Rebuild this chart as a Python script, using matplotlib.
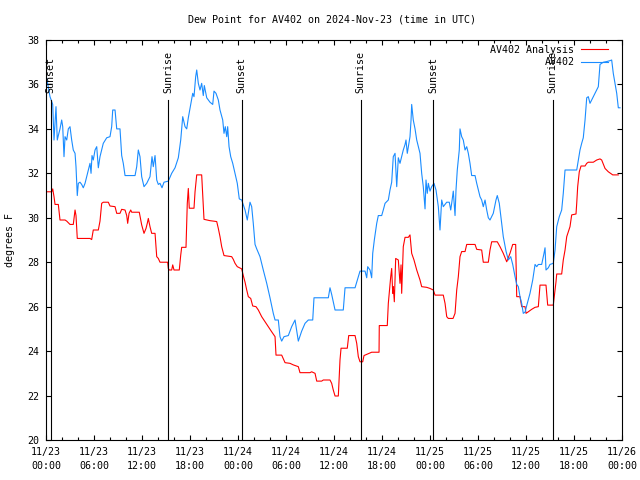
import numpy as np
import pandas as pd
import matplotlib
matplotlib.use("Agg")
import matplotlib.pyplot as plt
import matplotlib.dates as mdates

plt.rcParams['font.family'] = ['DejaVu Sans Mono']
plt.rcParams['font.size'] = 7.2

start = pd.Timestamp("2024-11-23 00:00")

# AV402 observations (hours since 11/23 00:00 UTC, degrees F)
obs_hours = [0.09, 0.5, 0.84, 1.0, 1.25, 1.41, 1.54, 1.75, 1.96, 2.09, 2.25, 2.38, 2.59, 2.79, 3.0,
             3.21, 3.41, 3.63, 3.75, 3.91, 4.04, 4.25, 4.46, 4.66, 4.88, 5.09, 5.29, 5.5, 5.63, 5.75,
             5.91, 6.13, 6.34, 6.54, 6.75, 6.96, 7.16, 7.59, 8.0, 8.21, 8.34, 8.63, 8.84, 9.25, 9.46,
             9.66, 9.88, 11.13, 11.34, 11.54, 11.75, 11.96, 12.25, 12.59, 13.0, 13.25, 13.41, 13.63,
             13.84, 14.04, 14.25, 14.5, 14.75, 15.29, 15.71, 16.13, 16.54, 16.84, 17.09, 17.38, 17.59,
             17.79, 18.09, 18.34, 18.5, 18.71, 18.84, 19.04, 19.25, 19.46, 19.66, 19.79, 20.09, 20.5,
             20.84, 21.0, 21.25, 21.54, 21.75, 22.09, 22.25, 22.41, 22.59, 22.71, 22.88, 23.09, 23.34,
             23.63, 23.91, 24.16, 24.46, 24.88, 25.16, 25.29, 25.5, 25.71, 25.91, 26.13, 26.34, 26.75,
             27.16, 27.59, 28.0, 28.41, 28.63, 29.04, 29.25, 29.46, 29.75, 30.29, 30.71, 31.13, 31.54,
             31.96, 32.38, 32.79, 33.34, 33.5, 35.29, 35.5, 35.71, 36.13, 37.16, 37.38, 38.63, 39.04,
             39.25, 39.88, 40.09, 40.21, 40.5, 40.71, 40.84, 41.04, 41.34, 41.54, 41.96, 42.16, 42.38,
             42.79, 43.0, 43.21, 43.41, 43.63, 43.84, 44.04, 44.25, 44.46, 44.66, 44.88, 45.0, 45.16,
             45.5, 45.63, 45.71, 45.91, 46.13, 46.34, 46.54, 46.75, 46.96, 47.16, 47.38, 47.5, 47.66,
             47.79, 48.0, 48.21, 48.5, 48.75, 49.04, 49.25, 49.46, 49.66, 50.09, 50.41, 50.59, 50.71,
             50.91, 51.13, 51.25, 51.41, 51.66, 51.75, 51.96, 52.16, 52.38, 52.59, 52.79, 53.0, 53.21,
             53.63, 53.84, 54.04, 54.25, 54.46, 54.66, 54.88, 55.09, 55.29, 55.5, 55.91, 56.25, 56.41,
             56.66, 56.88, 57.16, 57.5, 57.79, 58.09, 58.34, 58.63, 58.84, 59.04, 59.25, 59.46, 59.66,
             59.88, 60.09, 60.5, 60.84, 61.13, 61.34, 61.54, 61.96, 62.25, 62.38, 62.5, 62.79, 63.0,
             63.41, 63.63, 63.84, 64.16, 64.46, 64.66, 64.88, 66.34, 66.54, 66.75, 66.96, 67.16, 67.38,
             67.59, 67.79, 68.0, 68.21, 68.63, 69.04, 69.25, 69.66, 70.09, 70.5, 70.71, 70.91, 71.13,
             71.34, 71.54, 71.75]
obs_dewpt = [36.28, 35.45, 35.1, 33.5, 35.0, 33.5, 33.7, 34.0, 34.4, 34.1, 32.75, 33.65, 33.5, 34.0, 34.1,
             33.5, 33.05, 32.9, 32.3, 31.0, 31.55, 31.6, 31.5, 31.35, 31.55, 31.85, 32.15, 32.45, 32.0, 32.8,
             32.6, 33.05, 33.2, 32.25, 32.75, 33.05, 33.35, 33.6, 33.65, 34.1, 34.85, 34.85, 34.0, 34.0, 32.8,
             32.45, 31.9, 31.9, 32.3, 33.05, 32.75, 31.85, 31.4, 31.55, 31.85, 32.75, 32.3, 32.8,
             31.7, 31.5, 31.55, 31.35, 31.6, 31.65, 32.0, 32.25, 32.7, 33.5, 34.55, 34.1, 34.0,
             34.5, 35.1, 35.6, 35.45, 36.35, 36.65, 36.05, 35.75, 36.05, 35.5, 35.95, 35.4, 35.2,
             35.1, 35.7, 35.6, 35.3, 34.85, 34.4, 33.8, 34.1, 33.65, 34.1, 33.2, 32.75, 32.45,
             32.0, 31.55, 30.85, 30.8, 30.35, 29.9, 30.2, 30.7, 30.5, 29.75, 28.8, 28.6, 28.25,
             27.65, 27.05, 26.4, 25.7, 25.4, 25.4, 24.65, 24.45, 24.65, 24.7, 25.1, 25.4, 24.45,
             24.9, 25.25, 25.4, 25.4, 26.4, 26.4, 26.85, 26.55, 25.85, 25.85, 26.85, 26.85, 27.35,
             27.6, 27.6, 27.3, 27.8, 27.65, 27.3, 28.4, 29.0, 29.75, 30.1, 30.1, 30.35, 30.65,
             30.8, 31.25, 31.6, 32.75, 32.9, 31.4, 32.7, 32.45, 32.75, 33.05, 33.3, 33.5, 32.9,
             33.65, 34.4, 35.1, 34.4, 34.0, 33.5, 33.2, 32.9, 32.0, 31.4, 30.4, 31.7, 31.1,
             31.55, 31.2, 31.4, 31.55, 31.25, 30.5, 29.45, 30.8, 30.5, 30.7, 30.7, 30.35, 30.65,
             31.2, 30.1, 31.25, 32.15, 33.05, 34.0, 33.65, 33.5, 33.05, 33.2, 32.9, 32.45, 31.9,
             31.9, 31.55, 31.25, 30.95, 30.8, 30.5, 30.8, 30.35, 30.0, 29.9, 30.2, 30.8, 31.0,
             30.65, 30.0, 29.15, 28.5, 28.1, 28.25, 27.9, 27.35, 27.0, 26.9, 26.45, 26.15, 25.7,
             25.75, 26.05, 26.6, 27.2, 27.9, 27.8, 27.9, 27.9, 28.4, 28.65, 27.65, 27.75, 27.9,
             27.95, 28.55, 29.6, 30.05, 30.35, 31.1, 32.15, 32.15, 32.6, 33.05, 33.35, 33.6, 34.4,
             35.4, 35.45, 35.15, 35.3, 35.6, 35.9, 36.9, 37.0, 37.03, 37.07, 37.1, 36.5, 36.05,
             35.6, 34.95, 34.95]

# AV402 analysis (hours since 11/23 00:00 UTC, degrees F)
ana_hours = [0.09, 0.71, 0.84, 1.0, 1.13, 1.54, 1.75, 2.38, 2.59, 3.0, 3.41, 3.63, 3.75, 3.91, 5.5,
             5.71, 5.91, 6.54, 6.75, 6.96, 7.16, 7.79, 8.0, 8.63, 8.84, 9.25, 9.46, 9.88, 10.09,
             10.21, 10.38, 10.59, 10.71, 11.66, 11.96, 12.25, 12.5, 12.66, 12.79, 13.0, 13.21, 13.63,
             13.84, 14.04, 14.25, 15.21, 15.29, 15.41, 15.71, 15.84, 16.0, 16.66, 16.84, 16.96, 17.5,
             17.66, 17.79, 17.91, 18.5, 18.63, 18.84, 19.46, 19.75, 20.5, 21.34, 21.54, 21.75, 21.96,
             22.25, 23.21, 23.41, 23.63, 23.91, 24.46, 24.66, 24.88, 25.09, 25.29, 25.59, 25.84, 26.25,
             26.54, 26.96, 27.38, 27.79, 28.21, 28.63, 28.75, 29.46, 29.88, 30.5, 30.91, 31.54, 31.75,
             33.0, 33.21, 33.63, 33.84, 34.46, 34.66, 35.5, 35.71, 35.91, 36.13, 36.54, 36.75, 36.88,
             37.66, 37.84, 38.63, 38.84, 39.04, 39.25, 39.59, 39.75, 40.71, 41.63, 41.66, 42.66, 42.79,
             43.09, 43.21, 43.34, 43.41, 43.54, 43.71, 44.04, 44.25, 44.38, 44.46, 44.59, 44.66, 44.88,
             45.29, 45.5, 45.71, 46.0, 46.34, 46.75, 46.96, 47.59, 48.0, 48.41, 48.63, 49.66, 49.88,
             50.09, 50.29, 50.88, 51.13, 51.34, 51.54, 51.75, 51.96, 52.38, 52.59, 53.63, 53.84, 54.46,
             54.66, 55.29, 55.5, 55.71, 56.41, 56.75, 57.16, 57.59, 58.0, 58.34, 58.71, 58.84, 59.25,
             59.46, 59.88, 60.0, 60.29, 60.71, 61.13, 61.54, 61.75, 62.5, 62.71, 63.41, 63.75, 63.84,
             64.46, 64.66, 64.88, 65.09, 65.5, 65.71, 66.25, 66.34, 66.46, 66.66, 66.88, 67.38, 67.59,
             67.79, 68.41, 68.84, 69.25, 69.46, 69.88, 70.29, 70.84, 71.54]
ana_dewpt = [31.17, 31.17, 31.3, 30.95, 30.6, 30.6, 29.9, 29.9, 29.85, 29.7, 29.7, 30.35, 30.1, 29.07, 29.07,
             29.02, 29.45, 29.45, 29.85, 30.65, 30.7, 30.7, 30.53, 30.5, 30.2, 30.2, 30.38, 30.35, 30.1,
             29.75, 30.2, 30.35, 30.25, 30.25, 29.68, 29.3, 29.52, 29.75, 29.97, 29.6, 29.3, 29.3,
             28.25, 28.17, 28.0, 28.0, 27.72, 27.65, 27.65, 27.88, 27.65, 27.65, 28.32, 28.67, 28.67,
             30.65, 31.32, 30.43, 30.43, 31.17, 31.93, 31.93, 29.93, 29.87, 29.83, 29.52, 29.15, 28.7,
             28.3, 28.25, 28.13, 27.95, 27.8, 27.7, 27.4, 27.1, 26.75, 26.45, 26.37, 26.03, 26.0,
             25.85, 25.55, 25.32, 25.1, 24.87, 24.65, 23.82, 23.82, 23.48, 23.45, 23.38, 23.3, 23.03,
             23.03, 23.07, 23.0, 22.65, 22.65, 22.7, 22.7, 22.55, 22.25, 21.98, 21.98, 23.6, 24.13,
             24.13, 24.7, 24.7, 24.35, 23.75, 23.52, 23.52, 23.8, 23.95, 23.95, 25.15, 25.15, 26.15,
             27.35, 27.72, 26.6, 26.9, 26.22, 28.17, 28.1, 27.05, 27.88, 26.6, 27.88, 28.7, 29.12,
             29.12, 29.23, 28.4, 28.1, 27.65, 27.2, 26.9, 26.87, 26.82, 26.75, 26.52, 26.52, 26.15,
             25.55, 25.47, 25.47, 25.7, 26.75, 27.35, 28.25, 28.48, 28.48, 28.8, 28.8, 28.58, 28.55,
             28.0, 28.0, 28.55, 28.92, 28.92, 28.7, 28.4, 28.02, 28.4, 28.8, 28.8, 26.45, 26.45,
             26.0, 26.0, 25.7, 25.77, 25.88, 25.97, 26.0, 26.97, 26.97, 26.07, 26.07, 27.12, 27.47,
             27.47, 28.1, 28.55, 29.15, 29.6, 30.13, 30.17, 30.65, 31.4, 32.07, 32.33, 32.33, 32.45,
             32.5, 32.5, 32.6, 32.65, 32.6, 32.22, 32.07, 31.93, 31.93]

# sunrise / sunset markers (hours since 11/23 00:00 UTC)
sun_hours = [0.58, 15.3, 24.47, 39.33, 48.42, 63.33]
sun_labels = ["Sunset", "Sunrise", "Sunset", "Sunrise", "Sunset", "Sunrise"]

obs_t = start + pd.to_timedelta(obs_hours, unit="h")
ana_t = start + pd.to_timedelta(ana_hours, unit="h")
sun_t = start + pd.to_timedelta(sun_hours, unit="h")

fig = plt.figure(figsize=(6.4, 4.8), dpi=100)
ax = fig.add_axes([46/640, 40/480, 576/640, 400/480])

ax.plot(ana_t, ana_dewpt, color="#ff0000", lw=0.8, label="AV402 Analysis")
ax.plot(obs_t, obs_dewpt, color="#1a8cff", lw=0.8, label="AV402")

for t, lab in zip(sun_t, sun_labels):
    ax.axvline(t, ymin=0, ymax=0.85, color="black", lw=0.8)
    ax.text(t, 0.868, lab, rotation=90, ha="center", va="bottom",
            transform=ax.get_xaxis_transform())

ax.set_xlim(start, start + pd.Timedelta(hours=72))
ax.set_ylim(20, 38)
ax.set_yticks(np.arange(20, 39, 2))
ax.xaxis.set_major_locator(mdates.HourLocator(byhour=[0, 6, 12, 18]))
ax.xaxis.set_minor_locator(mdates.HourLocator(byhour=range(0, 24, 2)))
ax.xaxis.set_major_formatter(mdates.DateFormatter("%m/%d\n%H:%M"))
ax.tick_params(which="both", direction="in", top=True, right=True, width=0.8)
ax.tick_params(which="major", length=3.5, pad=5)
ax.tick_params(which="minor", length=2)
for lbl in ax.get_xticklabels():
    lbl.set_linespacing(1.5)
for sp in ax.spines.values():
    sp.set_linewidth(0.8)

ax.set_ylabel("degrees F")
ax.yaxis.set_label_coords(-0.054, 0.5)

fig.text(332/640, 1 - 19/480, "Dew Point for AV402 on 2024-Nov-23 (time in UTC)",
         ha="center", va="center")

ax.legend(loc="upper right", frameon=False, markerfirst=False, handlelength=2.7,
          handletextpad=0.7, labelspacing=0.25, borderaxespad=0.2, borderpad=0.3,
          bbox_to_anchor=(0.985, 1.0))

fig.savefig("out.png", dpi=100)
